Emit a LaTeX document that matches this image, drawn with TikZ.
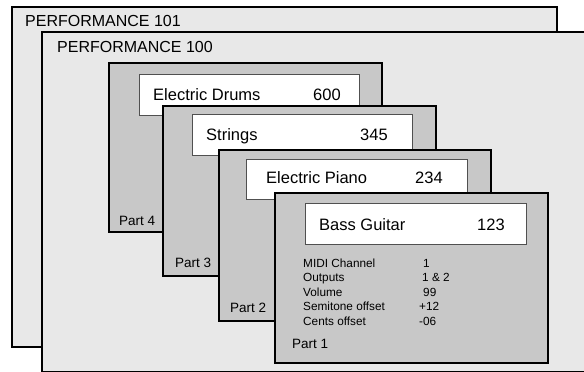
\documentclass[tikz,border=0pt]{standalone}
\usepackage{fontspec}
\setmainfont{Liberation Sans}
\usetikzlibrary{positioning}
\definecolor{PerfGrey}{HTML}{E8E8E8}
\definecolor{PartGrey}{HTML}{C8C8C8}
\definecolor{EdgeGrey}{HTML}{505050}

\begin{document}
\begin{tikzpicture}[x=1pt, y=-1pt,
    perfbox/.style={draw=black, fill=PerfGrey, line width=1.6pt, anchor=north west, inner sep=0pt, outer sep=0pt},
    partbox/.style={draw=black, fill=PartGrey, line width=1.6pt, anchor=north west, inner sep=0pt, outer sep=0pt},
    namebox/.style={draw=EdgeGrey, fill=white, line width=0.9pt, anchor=north west, inner sep=0pt, outer sep=0pt},
    title/.style={anchor=base west, inner sep=0pt, font=\fontsize{16}{19}\selectfont},
    voice/.style={anchor=base west, inner sep=0pt, font=\fontsize{16.5}{19}\selectfont},
    partlabel/.style={anchor=base west, inner sep=0pt, font=\fontsize{13.5}{16}\selectfont},
    param/.style={anchor=base west, inner sep=0pt, font=\fontsize{11.8}{14}\selectfont}]
    \useasboundingbox (0,0) rectangle (584,372);
    \begin{scope}
    \clip (0,0) rectangle (584,372);
    % performances
    \node[perfbox, minimum width=545pt, minimum height=340pt] (perf101) at (12,7) {};
    \node[title] (perf101label) at (25,27) {PERFORMANCE 101};
    \node[perfbox, minimum width=560pt, minimum height=340pt] (perf100) at (42,32) {};
    \node[title] (perf100label) at (57,52) {PERFORMANCE 100};
    % part 4
    \node[partbox, minimum width=273pt, minimum height=169pt] (part4) at (109,63) {};
    \node[namebox, minimum width=220pt, minimum height=41pt] (drums) at (139,74) {};
    \node[voice] (drumsname) at (153,100) {Electric Drums};
    \node[voice] (drumsnum) at (313,100) {600};
    \node[partlabel] (part4label) at (119,225) {Part 4};
    % part 3
    \node[partbox, minimum width=273pt, minimum height=170pt] (part3) at (163,106) {};
    \node[namebox, minimum width=220pt, minimum height=41pt] (strings) at (192,114) {};
    \node[voice] (stringsname) at (206,140) {Strings};
    \node[voice] (stringsnum) at (360,140) {345};
    \node[partlabel] (part3label) at (175,267) {Part 3};
    % part 2
    \node[partbox, minimum width=272pt, minimum height=171pt] (part2) at (219,150) {};
    \node[namebox, minimum width=221pt, minimum height=40pt] (piano) at (246,159) {};
    \node[voice] (pianoname) at (266,183) {Electric Piano};
    \node[voice] (pianonum) at (415,183) {234};
    \node[partlabel] (part2label) at (230,312) {Part 2};
    % part 1
    \node[partbox, minimum width=273pt, minimum height=170pt] (part1) at (275,193) {};
    \node[namebox, minimum width=221pt, minimum height=41pt] (bass) at (305,203) {};
    \node[voice] (bassname) at (319,230) {Bass Guitar};
    \node[voice] (bassnum) at (477,230) {123};
    \foreach \name/\val/\y/\vx in {MIDI Channel/1/267/423, Outputs/1 \& 2/281.5/422, Volume/99/296/423, Semitone offset/+12/310.5/419, Cents offset/-06/325/419}{
      \node[param] at (303,\y) {\name};
      \node[param] at (\vx,\y) {\val};
    }
    \node[partlabel] (part1label) at (292,348) {Part 1};
    \end{scope}
\end{tikzpicture}
\end{document}
